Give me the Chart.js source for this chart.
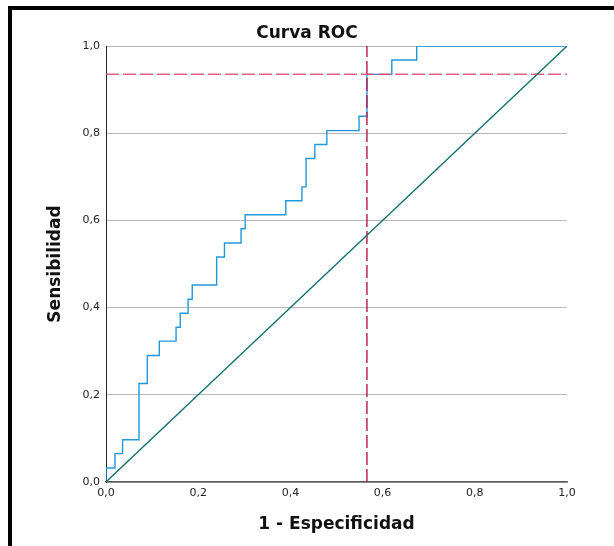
<!DOCTYPE html>
<html>
<head>
<meta charset="utf-8">
<script src="https://cdn.jsdelivr.net/npm/chart.js@4"></script>
<style>
  html, body { margin: 0; padding: 0; background: #fff; }
</style>
</head>
<body>
<canvas id="graficoRoc" width="614" height="546"></canvas>
<script>
// datos (1 - especificidad, sensibilidad)
const fpr = [0, 0, 0.0195, 0.036, 0.0716, 0.0896, 0.1156, 0.152, 0.161, 0.178, 0.187,
  0.240, 0.257, 0.293, 0.302, 0.390, 0.425, 0.434, 0.453, 0.479, 0.549, 0.566,
  0.620, 0.674, 1.0];
const tpr = [0, 0.032, 0.065, 0.097, 0.226, 0.290, 0.323, 0.355, 0.387, 0.419, 0.452,
  0.516, 0.548, 0.581, 0.613, 0.645, 0.677, 0.742, 0.774, 0.806, 0.839, 0.935,
  0.968, 1.0, 1.0];
const diagonal = [0, 1];
const corteX = 0.566; // linea vertical
const corteY = 0.935; // linea horizontal
const tickLabels = ["0,0", "0,2", "0,4", "0,6", "0,8", "1,0"];

const fuente = "'DejaVu Sans', sans-serif";

const marco = {
  id: "marco",
  beforeDraw(chart) {
    const c = chart.ctx;
    c.save();
    c.fillStyle = "#fff";
    c.fillRect(0, 0, chart.width, chart.height);
    c.fillStyle = "#000";
    c.fillRect(8, 6, chart.width - 8, 4); // borde de arriba
    c.fillRect(8, 6, 4, chart.height - 6); // borde izquierdo
    c.restore();
  },
};

const ctx = document.getElementById("graficoRoc").getContext("2d");
new Chart(ctx, {
  type: "scatter",
  data: {
    datasets: [
      {
        label: "Diagonal",
        data: diagonal.map((v) => ({ x: v, y: v })),
        showLine: true,
        borderColor: "#11706f",
        borderWidth: 1.3,
        pointRadius: 0,
        order: 0,
      },
      {
        label: "Corte horizontal",
        data: [{ x: 0, y: corteY }, { x: 1, y: corteY }],
        showLine: true,
        borderColor: "rgba(226, 78, 118, 0.9)",
        borderWidth: 1.5,
        borderDash: [13, 4],
        pointRadius: 0,
        order: 1,
      },
      {
        label: "Corte vertical",
        data: [{ x: corteX, y: 0 }, { x: corteX, y: 1 }],
        showLine: true,
        borderColor: "rgba(178, 18, 62, 0.9)",
        borderWidth: 1.5,
        borderDash: [13, 4],
        pointRadius: 0,
        order: 2,
      },
      {
        label: "Curva ROC",
        data: fpr.map((x, i) => ({ x: x, y: tpr[i] })),
        showLine: true,
        stepped: "before",
        borderColor: "#1f98dc",
        borderWidth: 1.4,
        pointRadius: 0,
        order: 3,
      },
    ],
  },
  options: {
    responsive: false,
    animation: false,
    devicePixelRatio: 1,
    layout: { padding: 0 },
    plugins: {
      legend: { display: false },
      tooltip: { enabled: false },
      title: {
        display: true,
        text: "Curva ROC",
        color: "#111",
        font: { family: fuente, size: 17, weight: "bold", lineHeight: 1.2 },
        padding: { top: 23, bottom: 2.6 },
      },
    },
    scales: {
      x: {
        type: "linear",
        min: 0,
        max: 1,
        ticks: {
          stepSize: 0.2,
          padding: 5,
          color: "#222",
          font: { family: fuente, size: 11 },
          callback: (v, i) => tickLabels[i],
        },
        grid: { display: false, drawTicks: false },
        border: { color: "#5a5a5a", width: 1.5 },
        title: {
          display: true,
          text: "1 - Especificidad",
          color: "#111",
          font: { family: fuente, size: 17, weight: "bold", lineHeight: 1.2 },
          padding: { top: 0, bottom: 11 },
        },
        afterFit: (s) => { s.height = 64; },
      },
      y: {
        type: "linear",
        min: 0,
        max: 1,
        ticks: {
          stepSize: 0.2,
          padding: 6,
          color: "#222",
          font: { family: fuente, size: 11 },
          callback: (v, i) => tickLabels[i],
        },
        grid: { color: "#b8b8b8", lineWidth: 1, drawTicks: false },
        border: { color: "#222", width: 1 },
        title: {
          display: true,
          text: "Sensibilidad",
          color: "#111",
          font: { family: fuente, size: 17, weight: "bold", lineHeight: 1.2 },
          padding: { top: 45, bottom: 0 },
        },
        afterFit: (s) => { s.width = 106; },
      },
      derecha: {
        type: "linear",
        position: "right",
        display: true,
        ticks: { display: false },
        grid: { display: false, drawTicks: false },
        border: { display: false },
        afterFit: (s) => { s.width = 47; },
      },
    },
  },
  plugins: [marco],
});
</script>
</body>
</html>
